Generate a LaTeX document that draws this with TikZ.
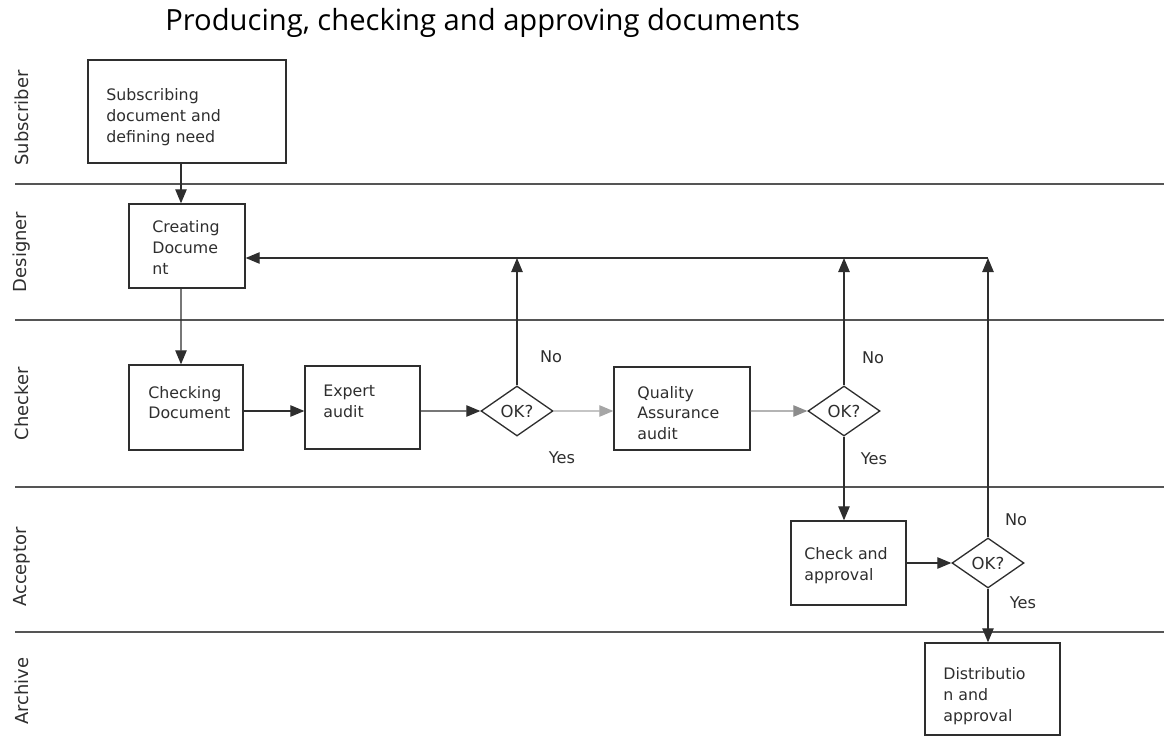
\documentclass[tikz,border=0pt]{standalone}
\usepackage{fontspec}
\setmainfont{DejaVu Sans}
\newfontfamily\titlefont{Open Sans}
\usetikzlibrary{arrows.meta,shapes.geometric}
\definecolor{ink}{HTML}{2E2E2E}
\definecolor{lane}{HTML}{555555}
\tikzset{
  px/.style={x=0.02cm,y=-0.02cm},
  box/.style={draw=ink,line width=0.75pt,rectangle,inner sep=0pt},
  txt/.style={anchor=west,align=left,inner sep=0pt,text=ink,font=\fontsize{9}{11.8}\selectfont},
  dec/.style={draw=ink,line width=0.75pt,diamond,inner sep=0pt,minimum width=1.44cm,minimum height=1cm,text=ink,font=\fontsize{9.4}{10}\selectfont},
  flow/.style={draw=ink,line width=0.75pt,-{Triangle[length=8pt,width=6.5pt]}},
  grayflow/.style={flow,draw=black!35},
  plain/.style={draw=ink,line width=0.75pt},
  lanelabel/.style={rotate=90,text=ink,font=\fontsize{10.2}{12}\selectfont},
  lbl/.style={text=ink,font=\fontsize{9.2}{10}\selectfont,inner sep=0pt},
  laneline/.style={draw=lane,line width=0.8pt}
}
\begin{document}
\begin{tikzpicture}[px]
\useasboundingbox (0,0) rectangle (1164,740);
% title
\node[anchor=west,inner sep=0pt,text=black,font=\titlefont\fontsize{16.6}{19}\selectfont] (title) at (165,23) {Producing, checking and approving documents};
% lane lines
\coordinate (l1a) at (15,184); \coordinate (l1b) at (1164,184);
\coordinate (l2a) at (15,320); \coordinate (l2b) at (1164,320);
\coordinate (l3a) at (15,487); \coordinate (l3b) at (1164,487);
\coordinate (l4a) at (15,632); \coordinate (l4b) at (1164,632);
\draw[laneline] (l1a) -- (l1b);
\draw[laneline] (l2a) -- (l2b);
\draw[laneline] (l3a) -- (l3b);
\draw[laneline] (l4a) -- (l4b);
% lane labels
\node[lanelabel] (ln1) at (22,118) {Subscriber};
\node[lanelabel] (ln2) at (22,252) {Designer};
\node[lanelabel] (ln3) at (22,404) {Checker};
\node[lanelabel] (ln4) at (22,567) {Acceptor};
\node[lanelabel] (ln5) at (22,691) {Archive};
% boxes
\node[box,minimum width=3.96cm,minimum height=2.06cm] (sub) at (187,111.5) {};
\node[box,minimum width=2.32cm,minimum height=1.68cm] (create) at (187,246) {};
\node[box,minimum width=2.28cm,minimum height=1.70cm] (check) at (186,407.5) {};
\node[box,minimum width=2.30cm,minimum height=1.66cm] (expert) at (362.5,407.5) {};
\node[dec] (d1) at (517,411) {OK?};
\node[box,minimum width=2.72cm,minimum height=1.66cm] (qa) at (682,408.5) {};
\node[dec] (d2) at (844,411) {OK?};
\node[box,minimum width=2.30cm,minimum height=1.68cm] (ca) at (848.5,563) {};
\node[dec] (d3) at (988,563) {OK?};
\node[box,minimum width=2.70cm,minimum height=1.84cm] (dist) at (992.5,689) {};
% box texts
\node[txt] (subt) at (106,117) {Subscribing\\document and\\defining need};
\node[txt] (createt) at (152,247.5) {Creating\\Docume\\nt};
\node[txt] (checkt) at (148,402.5) {Checking\\Document};
\node[txt] (expertt) at (323,401) {Expert\\audit};
\node[txt] (qat) at (637,413) {Quality\\Assurance\\audit};
\node[txt] (cat) at (804,566) {Check and\\approval};
\node[txt] (distt) at (943,696) {Distributio\\n and\\approval};
% feedback line height
\coordinate (fb) at (0,258);
% connectors
\draw[flow] ([xshift=-0.12cm]sub.south) -- ([xshift=-0.12cm]create.north);
\draw[flow] ([xshift=-0.12cm]create.south) -- ([xshift=-0.10cm]check.north);
\draw[flow] ([yshift=-0.07cm]check.east) -- ([yshift=-0.07cm]expert.west);
\draw[flow] ([yshift=-0.07cm]expert.east) -- (d1.west);
\draw[grayflow] (d1.east) -- ([yshift=-0.05cm]qa.west);
\draw[flow,draw=black!45] ([yshift=-0.05cm]qa.east) -- (d2.west);
\draw[flow] (d2.south) -- (d2.south |- ca.north);
\draw[flow] (ca.east) -- (d3.west);
\draw[flow] (d3.south) -- (d3.south |- dist.north);
\draw[flow] (d1.north) -- (d1.north |- fb);
\draw[flow] (d2.north) -- (d2.north |- fb);
\draw[flow] (d3.north) -- (d3.north |- fb);
\draw[flow] (d3.north |- fb) -- (create.east |- fb);
% labels
\node[lbl] (no1) at (551,357) {No};
\node[lbl] (yes1) at (562,458) {Yes};
\node[lbl] (no2) at (873,358) {No};
\node[lbl] (yes2) at (874,459) {Yes};
\node[lbl] (no3) at (1016,520) {No};
\node[lbl] (yes3) at (1023,603) {Yes};
\end{tikzpicture}
\end{document}
